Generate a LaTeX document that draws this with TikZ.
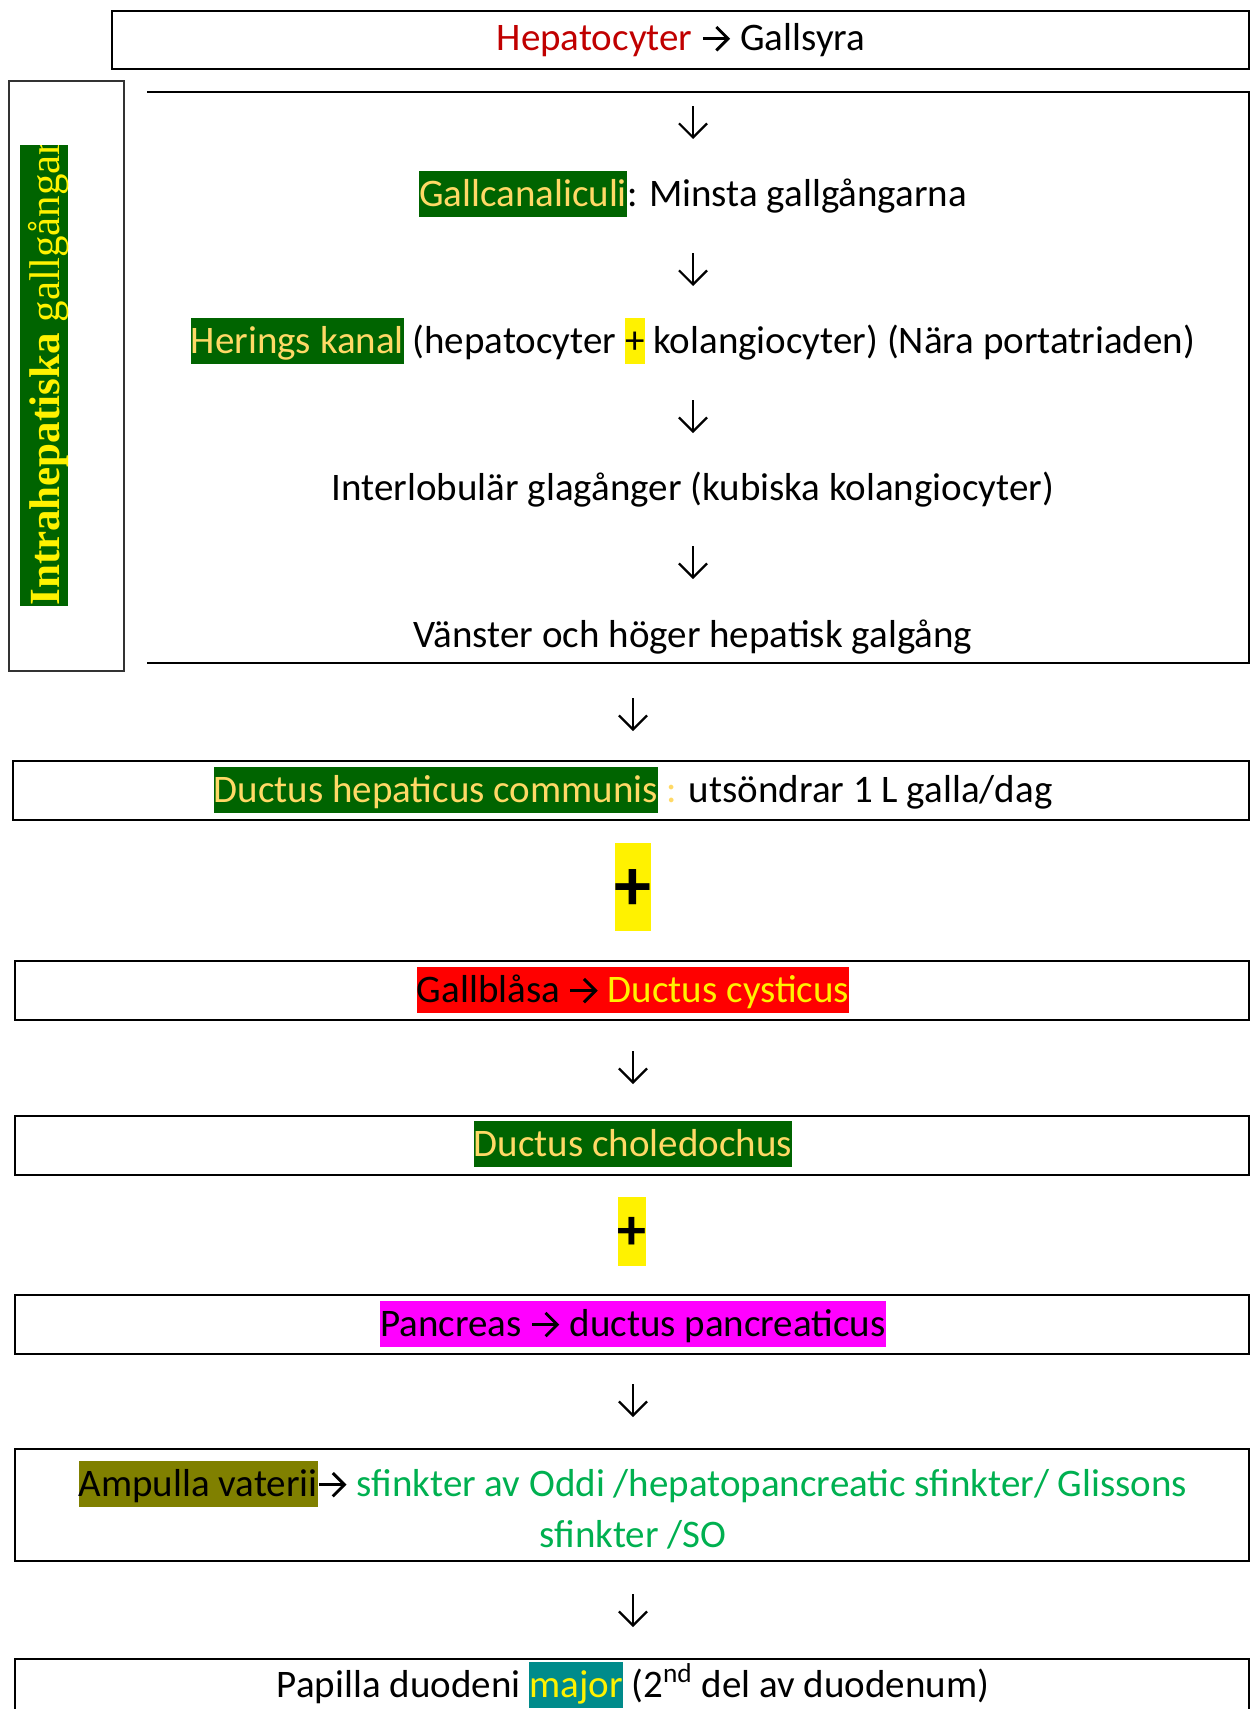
\documentclass[tikz,border=0pt]{standalone}
\usepackage{fontspec}
\setmainfont{Carlito}
\newfontfamily\seriffont{Liberation Serif}
\usetikzlibrary{arrows.meta}
\definecolor{vertfonce}{RGB}{0,100,0}
\definecolor{ortexte}{RGB}{255,217,102}
\definecolor{rougefonce}{RGB}{192,0,0}
\definecolor{vertclair}{RGB}{0,176,80}
\definecolor{olivefonce}{RGB}{128,128,0}
\definecolor{sarcelle}{RGB}{0,139,139}
\definecolor{fuchsia}{RGB}{255,0,255}
\newcommand\surl[2]{{\setlength{\fboxsep}{0pt}\colorbox{#1}{\rule[-0.28em]{0pt}{1.19em}#2}}}
\newcommand\pil{\tikz[baseline=0pt]{\draw[line width=0.075em,-{Straight Barb[length=0.3em,width=0.6em]}]
    (0.04em,0.3em) -- (0.74em,0.3em);}}
\begin{document}
\begin{tikzpicture}[x=0.5pt,y=-0.5pt,
    boite/.style={line width=1.2pt},
    texte/.style={inner sep=0pt,align=center,font=\fontsize{19.5}{25.5}\selectfont},
    fleche/.style={line width=1.1pt,-{Straight Barb[length=7pt,width=14pt]}}]
    \useasboundingbox (0,0) rectangle (1250,1709);

    % Cadre du haut
    \draw[boite] (112,11) rectangle (1249,69);
    \node[texte] (hep) at (681,40) {{\color{rougefonce}Hepatocyter} \pil{} Gallsyra};

    % Partie intrahepatique
    \draw[boite] (147,92) -- (1249,92) -- (1249,663) -- (147,663);
    \draw[line width=0.8pt, black!80] (9,81) rectangle (124,671);
    \begin{scope}
        \clip (20,145) rectangle (68,606);
        \fill[vertfonce] (20,145) rectangle (68,606);
        \node[rotate=90, anchor=base west, inner sep=0pt, text=yellow,
              font=\seriffont\fontsize{21.5}{26}\selectfont] (intra) at (59,606)
              {\textbf{Intrahepatiska} gallgångar};
    \end{scope}
    \node[texte] (canal) at (693,194) {\surl{vertfonce}{\color{ortexte}Gallcanaliculi}: Minsta gallgångarna};
    \node[texte] (hering) at (693,341) {\surl{vertfonce}{\color{ortexte}Herings kanal} (hepatocyter \surl{yellow}{+} kolangiocyter) (Nära portatriaden)};
    \node[texte] (inter) at (693,490) {Interlobulär glagånger (kubiska kolangiocyter)};
    \node[texte] (vh) at (693,637) {Vänster och höger hepatisk galgång};

    % Cadres du bas
    \draw[boite] (13,761) rectangle (1249,820);
    \node[texte] (dhc) at (633,790) {\surl{vertfonce}{\color{ortexte}Ductus hepaticus communis} {\color{ortexte}:} utsöndrar 1 L galla/dag};
    \node[texte, font=\bfseries\fontsize{37}{44}\selectfont] (plusa) at (633,887) {\surl{yellow}{+}};

    \draw[boite] (15,961) rectangle (1249,1020);
    \node[texte] (gb) at (633,990) {\surl{red}{Gallblåsa \pil{} \color{yellow}Ductus cysticus}};

    \draw[boite] (15,1116) rectangle (1249,1175);
    \node[texte] (chol) at (633,1144) {\surl{vertfonce}{\color{ortexte}Ductus choledochus}};
    \node[texte, font=\bfseries\fontsize{29}{35}\selectfont] (plusb) at (632,1231) {\surl{yellow}{+}};

    \draw[boite] (15,1295) rectangle (1249,1354);
    \node[texte] (panc) at (633,1324) {\surl{fuchsia}{Pancreas \pil{} ductus pancreaticus}};

    \draw[boite] (15,1449) rectangle (1249,1561);
    \node[texte] (amp) at (633,1505) {\surl{olivefonce}{Ampulla vaterii}\pil{} {\color{vertclair}sfinkter av Oddi /hepatopancreatic sfinkter/ Glissons}\\
        {\color{vertclair}sfinkter /SO}};

    \draw[boite] (15,1659) rectangle (1249,1730);
    \node[texte] (pap) at (633,1685) {Papilla duodeni \surl{sarcelle}{\color{yellow}major} (2\textsuperscript{nd} del av duodenum)};

    % Fleches
    \foreach \n/\x/\y in {1/693/123, 2/693/270, 3/693/417, 4/693/563,
                          5/633/715, 6/633/1068, 7/633/1401, 8/633/1611} {
        \coordinate (f\n h) at (\x,\y-17);
        \coordinate (f\n b) at (\x,\y+16);
        \draw[fleche] (f\n h) -- (f\n b);
    }

\end{tikzpicture}
\end{document}
